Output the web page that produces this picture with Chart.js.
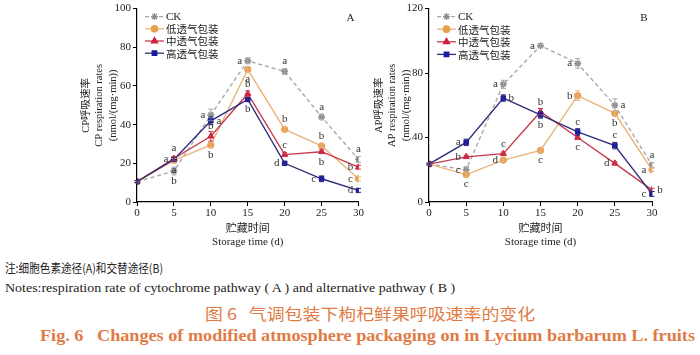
<!DOCTYPE html>
<html>
<head>
<meta charset="utf-8">
<script src="https://cdn.jsdelivr.net/npm/chart.js@4/dist/chart.umd.min.js"></script>
<style>
  html, body { margin: 0; padding: 0; background: #ffffff; }
  body { width: 700px; height: 355px; position: relative; overflow: hidden; }
  #wrapA { position: absolute; left: 0; top: 0; width: 365px; height: 250px; }
  #wrapB { position: absolute; left: 360px; top: 0; width: 340px; height: 250px; }
  .cap { position: absolute; white-space: nowrap; transform-origin: 0 50%; }
  #c1 { left: 5px; top: 259px; font: 12px "Noto Sans CJK SC", sans-serif; color: #222; }
  #c2 { left: 5px; top: 281px; font: 12.5px "Liberation Serif", serif; color: #222; }
  #c3 { left: 205px; top: 301px; font: 16px "Noto Sans CJK SC", sans-serif; color: #e07b45; }
  #c4 { left: 40px; top: 326px; font: bold 17px "Liberation Serif", serif; color: #e07b45; }
</style>
</head>
<body>
<div id="wrapA"><canvas id="chartA" width="365" height="250"></canvas></div>
<div id="wrapB"><canvas id="chartB" width="340" height="250"></canvas></div>
<div class="cap" id="c1" data-w="158">注:细胞色素途径(A)和交替途径(B)</div>
<div class="cap" id="c2" data-w="450">Notes:respiration rate of cytochrome pathway ( A ) and alternative pathway ( B )</div>
<div class="cap" id="c3" data-w="330">图 6&nbsp;&nbsp;&nbsp;气调包装下枸杞鲜果呼吸速率的变化</div>
<div class="cap" id="c4" data-w="655">Fig. 6&nbsp;&nbsp;&nbsp;Changes of modified atmosphere packaging on in Lycium barbarum L. fruits</div>
<script>
// ---------- data ----------
const days = [0, 5, 10, 15, 20, 25, 30];
const seriesNames = ['CK', '低透气包装', '中透气包装', '高透气包装'];

// A: CP respiration rates
const cpCK   = [10.5, 16, 45, 73, 67.5, 44, 22];
const cpLow  = [10.5, 21.5, 29.5, 68.5, 37.5, 29, 12];
const cpMid  = [10.5, 22.5, 34, 56, 24.5, 26, 18];
const cpHigh = [10.5, 22, 42, 53, 20, 12, 6];
const cpCKErr   = [0.5, 2, 3, 1.5, 1.5, 1.5, 1.5];
const cpLowErr  = [0.5, 1, 1.5, 1.5, 1, 1, 1];
const cpMidErr  = [0.5, 1, 2.5, 1.5, 1, 1, 1];
const cpHighErr = [0.5, 1, 2, 1, 0.8, 1.5, 1];
const cpCKLet   = ['', 'b', 'a', 'a', 'a', 'a', 'a'];
const cpLowLet  = ['', 'a', 'b', 'a', 'b', 'b', 'c'];
const cpMidLet  = ['', 'a', 'b', 'b', 'c', 'b', 'b'];
const cpHighLet = ['', 'a', 'a', 'b', 'd', 'c', 'd'];

// B: AP respiration rates
const apCK   = [23.5, 20, 73, 97, 86, 60, 23];
const apLow  = [23.5, 17, 26, 32, 66, 55, 20];
const apMid  = [23.5, 28, 30, 56, 40, 24, 7.5];
const apHigh = [23.5, 37, 64.5, 54, 43.5, 35, 5];
const apCKErr   = [0.5, 2, 2.5, 1, 3, 4, 1.5];
const apLowErr  = [0.5, 1.5, 1, 1, 3, 1.5, 1];
const apMidErr  = [0.5, 1, 1, 2, 1, 1, 1];
const apHighErr = [0.5, 2, 2, 2, 2, 2, 1.5];
const apCKLet   = ['', 'c', 'a', 'a', 'a', 'a', 'a'];
const apLowLet  = ['', 'c', 'd', 'c', 'b', 'b', 'a'];
const apMidLet  = ['', 'b', 'c', 'b', 'c', 'd', 'b'];
const apHighLet = ['', 'a', 'b', 'b', 'c', 'c', 'c'];

const xTicks = [0, 5, 10, 15, 20, 25, 30];

// ---------- style / placement ----------
const cpSides = [
  ['', 'd', 'l', 'l', 'u', 'u', 'u'],
  ['', 'd', 'd', 'd', 'u', 'u', 'l'],
  ['', 'u', 'u', 'u', 'u', 'd', 'l'],
  ['', 'l', 'r', 'd', 'l', 'l', 'l']
];
const apSides = [
  ['', 'l', 'l', 'l', 'l', 'r', 'u'],
  ['', 'd', 'l', 'd', 'l', 'd', 'l'],
  ['', 'l', 'u', 'u', 'd', 'l', 'r'],
  ['', 'l', 'r', 'd', 'u', 'u', 'l']
];
const styles = [
  { line: '#a8a8a8', point: '#8a8a8a', shape: 'star', dash: [4, 3], r: 3.5 },
  { line: '#eab47c', point: '#e8a050', shape: 'circle', dash: [], r: 3.2 },
  { line: '#c83a50', point: '#d0203c', shape: 'triangle', dash: [], r: 3.5 },
  { line: '#2e2e7c', point: '#1a1aa0', shape: 'rect', dash: [], r: 3.2 }
];
const serif = '"Liberation Serif", "Noto Sans CJK SC", serif';
const cjk = '"Noto Sans CJK SC", "Liberation Serif", sans-serif';

function makeDatasets(vals, errs, lets, sides) {
  return vals.map((v, i) => ({
    label: seriesNames[i],
    data: days.map((d, k) => ({ x: d, y: v[k] })),
    errs: errs[i],
    lets: lets[i],
    sides: sides[i],
    borderColor: styles[i].line,
    backgroundColor: styles[i].point,
    pointBorderColor: styles[i].point,
    pointBackgroundColor: styles[i].point,
    pointStyle: styles[i].shape,
    pointRadius: styles[i].r,
    pointBorderWidth: styles[i].shape === 'star' ? 1.5 : 1,
    borderDash: styles[i].dash,
    borderWidth: 1.4,
    tension: 0,
    order: 4 - i
  }));
}

const decorPlugin = {
  id: 'decor',
  afterDatasetsDraw(chart, args, opts) {
    const ctx = chart.ctx;
    const xs = chart.scales.x, ys = chart.scales.y;
    const ca = chart.chartArea;
    ctx.save();
    // error bars
    chart.data.datasets.forEach((ds, i) => {
      ctx.strokeStyle = ds.borderColor;
      ctx.lineWidth = 1;
      ctx.setLineDash([]);
      ds.data.forEach((p, k) => {
        const e = ds.errs[k];
        if (!e) return;
        const px = xs.getPixelForValue(p.x);
        const y1 = ys.getPixelForValue(p.y + e), y2 = ys.getPixelForValue(p.y - e);
        ctx.beginPath();
        ctx.moveTo(px, y1); ctx.lineTo(px, y2);
        ctx.moveTo(px - 2.5, y1); ctx.lineTo(px + 2.5, y1);
        ctx.moveTo(px - 2.5, y2); ctx.lineTo(px + 2.5, y2);
        ctx.stroke();
      });
    });
    // significance letters
    ctx.fillStyle = '#333';
    ctx.font = '11px ' + serif;
    ctx.textAlign = 'center';
    ctx.textBaseline = 'middle';
    chart.data.datasets.forEach((ds) => {
      ds.data.forEach((p, k) => {
        const t = ds.lets[k];
        if (!t) return;
        let px = xs.getPixelForValue(p.x), py = ys.getPixelForValue(p.y);
        const s = ds.sides[k];
        if (s === 'u') py -= 10;
        else if (s === 'd') py += 10;
        else if (s === 'l') px -= 8;
        else if (s === 'r') px += 8;
        ctx.fillText(t, px, py);
      });
    });
    // legend
    const lx = ca.left + 8, ly0 = ca.top + 8, step = opts.step;
    chart.data.datasets.forEach((ds, i) => {
      const y = ly0 + i * step;
      ctx.strokeStyle = ds.borderColor;
      ctx.lineWidth = 1.3;
      ctx.setLineDash(ds.borderDash || []);
      ctx.beginPath(); ctx.moveTo(lx, y); ctx.lineTo(lx + 19, y); ctx.stroke();
      ctx.setLineDash([]);
      ctx.fillStyle = ds.pointBackgroundColor;
      ctx.strokeStyle = ds.pointBorderColor;
      if (Chart.helpers && Chart.helpers.drawPoint) {
        Chart.helpers.drawPoint(ctx, { pointStyle: ds.pointStyle, radius: ds.pointRadius, rotation: 0, borderWidth: ds.pointBorderWidth }, lx + 9.5, y);
      }
      ctx.fillStyle = '#222';
      ctx.textAlign = 'left';
      ctx.font = (i === 0 ? '11px ' + serif : '10.5px ' + cjk);
      ctx.fillText(ds.label, lx + 21, y + 0.5);
    });
    // panel label
    ctx.font = '11px ' + serif;
    ctx.textAlign = 'center';
    ctx.fillStyle = '#222';
    ctx.fillText(opts.panel, ca.right - 8, ca.top + 10);
    ctx.restore();
  }
};

function makeChart(id, datasets, yMax, yStep, yTitle, pad, yWidth, panel, step) {
  return new Chart(document.getElementById(id), {
    type: 'line',
    data: { datasets },
    plugins: [decorPlugin],
    options: {
      responsive: false,
      animation: false,
      layout: { padding: pad },
      plugins: {
        legend: { display: false },
        tooltip: { enabled: false },
        decor: { panel, step }
      },
      scales: {
        x: {
          type: 'linear', min: 0, max: 30,
          afterBuildTicks: (s) => { s.ticks = xTicks.map(v => ({ value: v })); },
          afterFit: (s) => { s.height = 48; },
          border: { display: true, color: '#000', width: 1.2 },
          grid: { display: true, drawOnChartArea: false, drawTicks: true, tickLength: 4, color: '#000' },
          ticks: { color: '#222', padding: 1, font: { family: serif, size: 11 } },
          title: { display: true, text: ['贮藏时间', 'Storage time (d)'], color: '#222', padding: { top: 0, bottom: 1 },
                   font: { family: serif, size: 11, lineHeight: 1.2 } }
        },
        y: {
          type: 'linear', min: 0, max: yMax,
          ticks: { stepSize: yStep, color: '#222', padding: 2, font: { family: serif, size: 11 } },
          afterFit: (s) => { s.width = yWidth; },
          border: { display: true, color: '#000', width: 1.2 },
          grid: { display: true, drawOnChartArea: false, drawTicks: true, tickLength: 4, color: '#000' },
          title: { display: true, text: yTitle, color: '#222', padding: { top: 0, bottom: 0 },
                   font: { family: serif, size: 10.5, lineHeight: 1.25 } }
        }
      }
    }
  });
}

makeChart('chartA',
  makeDatasets([cpCK, cpLow, cpMid, cpHigh], [cpCKErr, cpLowErr, cpMidErr, cpHighErr], [cpCKLet, cpLowLet, cpMidLet, cpHighLet], cpSides),
  100, 20, ['CP呼吸速率', 'CP respiration rates', '(nmol/(mg·min))'],
  { left: 80, top: 8, right: 6, bottom: 0 }, 57, 'A', 12.2);

makeChart('chartB',
  makeDatasets([apCK, apLow, apMid, apHigh], [apCKErr, apLowErr, apMidErr, apHighErr], [apCKLet, apLowLet, apMidLet, apHighLet], apSides),
  120, 40, ['AP呼吸速率', 'AP respiration rates', '(nmol/(mg·min))'],
  { left: 13, top: 7, right: 48, bottom: 0 }, 56, 'B', 12.6);

// fit caption widths to the reference
document.querySelectorAll('.cap').forEach(el => {
  const target = parseFloat(el.dataset.w);
  const w = el.getBoundingClientRect().width;
  if (w > 0) el.style.transform = 'scaleX(' + (target / w).toFixed(3) + ')';
});
</script>
</body>
</html>
